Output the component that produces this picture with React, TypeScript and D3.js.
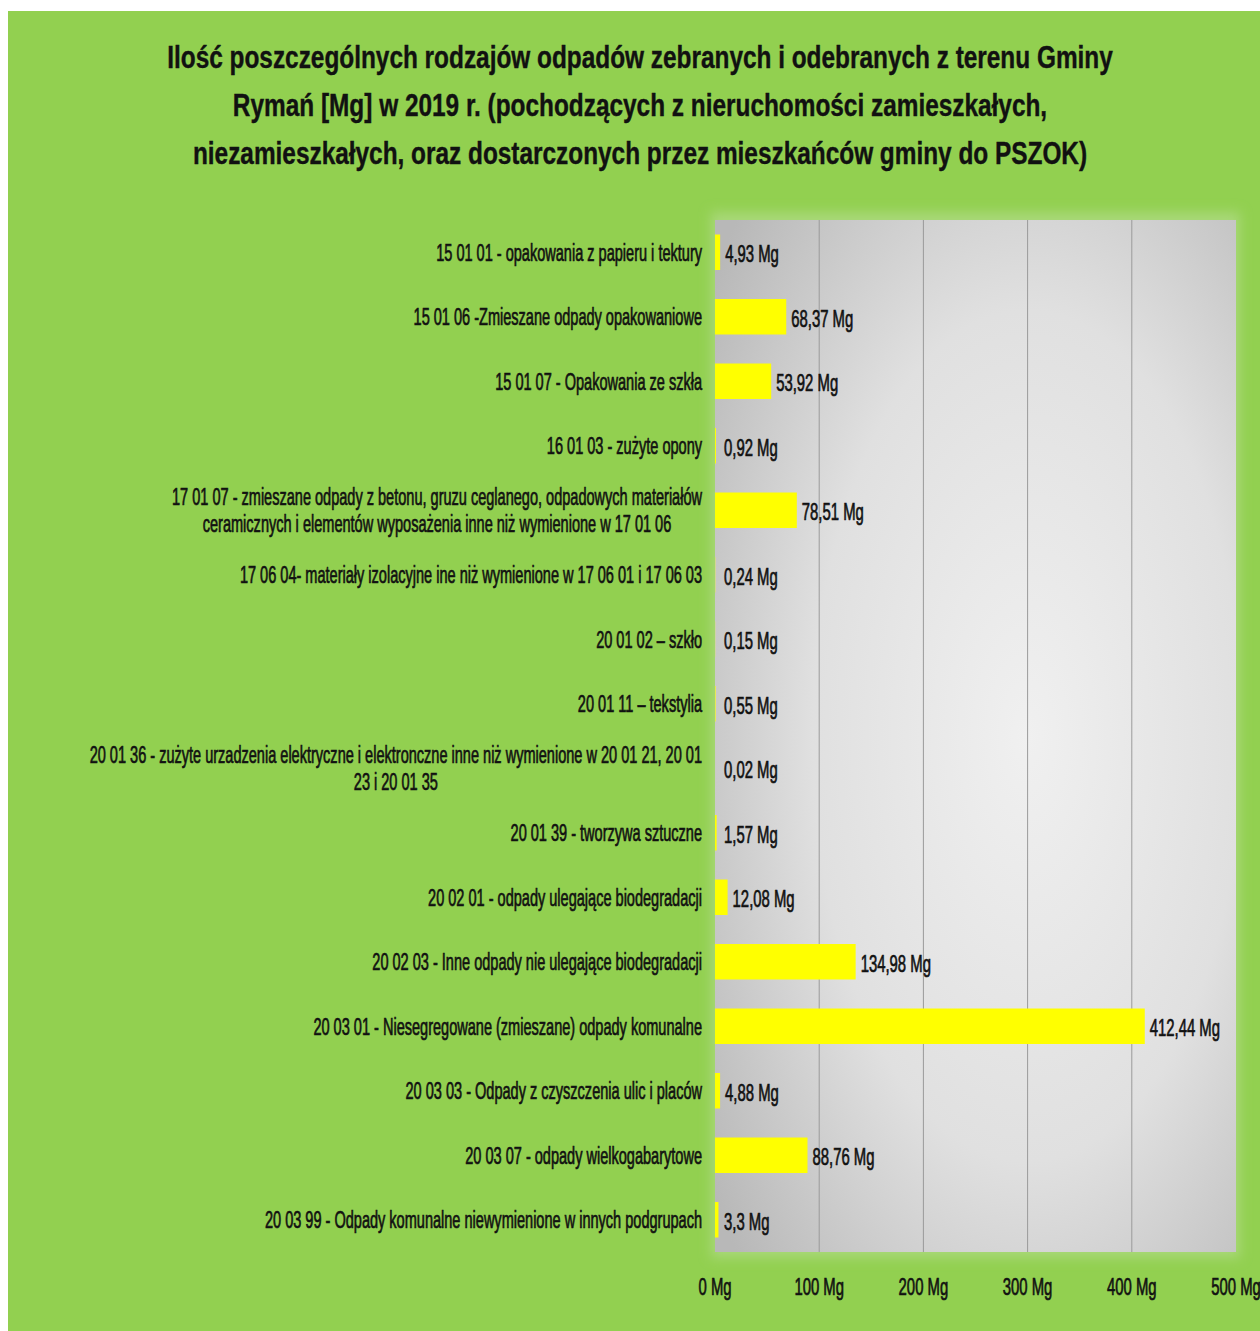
import React, { useEffect, useRef } from "react";
import * as d3 from "d3";

const titleLines = [
  "Ilość poszczególnych rodzajów odpadów zebranych i odebranych z terenu Gminy",
  "Rymań [Mg] w 2019 r. (pochodzących z nieruchomości zamieszkałych,",
  "niezamieszkałych, oraz dostarczonych przez mieszkańców gminy do PSZOK)",
];

const categories: string[][] = [
  ["15 01 01 - opakowania z papieru i tektury"],
  ["15 01 06 -Zmieszane odpady opakowaniowe"],
  ["15 01 07 - Opakowania ze szkła"],
  ["16 01 03 - zużyte opony"],
  [
    "17 01 07 - zmieszane odpady z betonu, gruzu ceglanego, odpadowych materiałów",
    "ceramicznych i elementów wyposażenia inne niż wymienione w 17 01 06",
  ],
  ["17 06 04- materiały izolacyjne ine niż wymienione w 17 06 01 i 17 06 03"],
  ["20 01 02 – szkło"],
  ["20 01 11 – tekstylia"],
  [
    "20 01 36 - zużyte urzadzenia elektryczne i elektronczne inne niż wymienione w 20 01 21, 20 01",
    "23 i 20 01 35",
  ],
  ["20 01 39 - tworzywa sztuczne"],
  ["20 02 01 - odpady ulegające biodegradacji"],
  ["20 02 03 - Inne odpady nie ulegające biodegradacji"],
  ["20 03 01 - Niesegregowane (zmieszane) odpady komunalne"],
  ["20 03 03 - Odpady z czyszczenia ulic i placów"],
  ["20 03 07 - odpady wielkogabarytowe"],
  ["20 03 99 - Odpady komunalne niewymienione w innych podgrupach"],
];

const values = [4.93, 68.37, 53.92, 0.92, 78.51, 0.24, 0.15, 0.55, 0.02, 1.57, 12.08, 134.98, 412.44, 4.88, 88.76, 3.3];

const ticks = [0, 100, 200, 300, 400, 500];

const W = 1260;
const H = 1331;
const FONT = "'Liberation Sans', Arial, sans-serif";

export default function App() {
  const ref = useRef<SVGSVGElement | null>(null);

  useEffect(() => {
    const svg = d3.select(ref.current);
    svg.selectAll("*").remove();

    const defs = svg.append("defs");
    const grad = defs
      .append("radialGradient")
      .attr("id", "plotGrad")
      .attr("cx", "0.6")
      .attr("cy", "0.5")
      .attr("r", "0.75");
    grad.append("stop").attr("offset", "0%").attr("stop-color", "#f0f0f0");
    grad.append("stop").attr("offset", "55%").attr("stop-color", "#e0e0e0");
    grad.append("stop").attr("offset", "100%").attr("stop-color", "#b8b8b8");
    const blur = defs.append("filter").attr("id", "glow").attr("x", "-5%").attr("y", "-5%").attr("width", "110%").attr("height", "110%");
    blur.append("feGaussianBlur").attr("stdDeviation", 6);

    // page / chart background
    svg.append("rect").attr("x", 0).attr("y", 0).attr("width", W).attr("height", H).attr("fill", "#ffffff");
    svg.append("rect").attr("x", 8).attr("y", 11).attr("width", W - 8).attr("height", H - 11).attr("fill", "#92d050");

    // title
    const tg = svg.append("g");
    titleLines.forEach((line, i) => {
      tg.append("g")
        .attr("transform", `translate(640,${68 + i * 48}) scale(0.787,1)`)
        .append("text")
        .attr("text-anchor", "middle")
        .attr("font-family", FONT)
        .attr("font-weight", "bold")
        .attr("font-size", 31)
        .attr("fill", "#111")
        .attr("stroke", "#111")
        .attr("stroke-width", 0.4)
        .text(line);
    });

    const left = 715;
    const right = 1236;
    const top = 220;
    const bottom = 1252;

    const x = d3.scaleLinear().domain([0, 500]).range([left, right]);
    const y = d3
      .scaleBand<number>()
      .domain(d3.range(categories.length))
      .range([top, bottom])
      .paddingInner(0.45)
      .paddingOuter(0.225);

    // faint halo around plot
    svg
      .append("rect")
      .attr("x", left - 4)
      .attr("y", top - 8)
      .attr("width", right - left + 8)
      .attr("height", bottom - top + 14)
      .attr("fill", "#a8d878")
      .attr("filter", "url(#glow)");

    // plot area
    svg
      .append("rect")
      .attr("x", left)
      .attr("y", top)
      .attr("width", right - left)
      .attr("height", bottom - top)
      .attr("fill", "url(#plotGrad)");

    // gridlines
    svg
      .append("g")
      .selectAll("line")
      .data(ticks.filter((t) => t > 0 && t < 500))
      .join("line")
      .attr("x1", (d) => x(d))
      .attr("x2", (d) => x(d))
      .attr("y1", top)
      .attr("y2", bottom)
      .attr("stroke", "#9a9a9a")
      .attr("stroke-width", 1);

    // bars
    svg
      .append("g")
      .selectAll("rect")
      .data(values)
      .join("rect")
      .attr("x", x(0))
      .attr("y", (_, i) => y(i)!)
      .attr("width", (d) => Math.max(0, x(d) - x(0)))
      .attr("height", y.bandwidth())
      .attr("fill", "#ffff00");

    const SX = 0.606;
    const SXV = 0.62;
    const FS = 24;
    const SW = 0.7;

    // value labels
    const vg = svg.append("g");
    values.forEach((v, i) => {
      vg.append("g")
        .attr("transform", `translate(${Math.max(x(v), x(0) + 4) + 5},${y(i)! + y.bandwidth() / 2}) scale(${SXV},1)`)
        .append("text")
        .attr("font-family", FONT)
        .attr("font-size", FS)
        .attr("fill", "#111")
        .attr("stroke", "#111")
        .attr("stroke-width", SW)
        .attr("dy", "0.42em")
        .text(`${String(v).replace(".", ",")} Mg`);
    });

    // category labels
    const cg = svg.append("g");
    categories.forEach((lines, i) => {
      const cy = y(i)! + y.bandwidth() / 2;
      const g = cg.append("g").attr("transform", `translate(702,${cy}) scale(${SX},1)`);
      const t = g
        .append("text")
        .attr("font-family", FONT)
        .attr("font-size", FS)
        .attr("fill", "#111")
        .attr("stroke", "#111")
        .attr("stroke-width", SW)
        .attr("text-anchor", "middle");
      const lh = 27;
      const n = lines.length;
      const spans = lines.map((ln, k) =>
        t
          .append("tspan")
          .attr("x", 0)
          .attr("y", (k - (n - 1) / 2) * lh)
          .attr("dy", "0.35em")
          .text(ln)
      );
      const w = d3.max(spans, (s) => (s.node() as SVGTSpanElement).getComputedTextLength()) || 0;
      spans.forEach((s) => s.attr("x", -w / 2));
    });

    // x tick labels
    const xg = svg.append("g");
    ticks.forEach((t) => {
      xg.append("g")
        .attr("transform", `translate(${x(t)},1287) scale(${SXV},1)`)
        .append("text")
        .attr("font-family", FONT)
        .attr("font-size", FS)
        .attr("fill", "#111")
        .attr("stroke", "#111")
        .attr("stroke-width", SW)
        .attr("text-anchor", "middle")
        .attr("dy", "0.35em")
        .text(`${t} Mg`);
    });
  }, []);

  return (
    <svg
      ref={ref}
      width={W}
      height={H}
      style={{ position: "absolute", left: 0, top: 0, display: "block" }}
    />
  );
}
